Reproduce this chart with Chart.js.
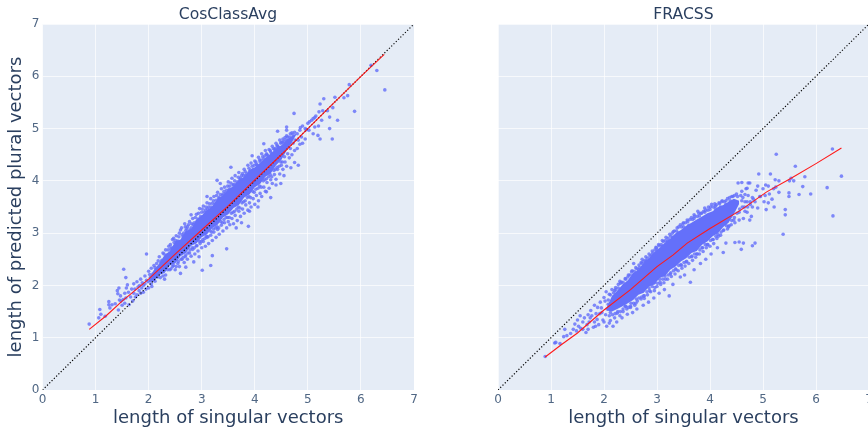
<!DOCTYPE html>
<html>
<head>
<meta charset="utf-8">
<script src="https://cdn.jsdelivr.net/npm/chart.js@4/dist/chart.umd.min.js"></script>
<style>
html,body{margin:0;padding:0;background:#fff;width:868px;height:427px;overflow:hidden}
#wrapA,#wrapB{position:absolute;top:0;height:427px}
#wrapA{left:0;width:456px}
#wrapB{left:434px;width:499px}
</style>
</head>
<body>
<div id="wrapA"><canvas id="a"></canvas></div>
<div id="wrapB"><canvas id="b"></canvas></div>
<script>
const panelTitles = ["CosClassAvg", "FRACSS"];
const xAxisLabel = "length of singular vectors";
const yAxisLabel = "length of predicted plural vectors";
const tickValues = [0,1,2,3,4,5,6,7];
const identityLine = [[0,0],[7,7]];

const trendA = [[0.88,1.16],[1.2,1.42],[1.5,1.7],[2,2.12],[2.5,2.6],[3,3.06],[3.5,3.52],[4,4.02],[4.5,4.5],[5,5],[5.5,5.5],[6,6],[6.44,6.42]];
const trendB = [[0.89,0.63],[1.2,0.87],[1.5,1.09],[2,1.53],[2.5,1.92],[3,2.36],[3.3,2.58],[3.57,2.81],[4,3.09],[4.58,3.44],[5.07,3.79],[5.53,4.05],[6,4.33],[6.48,4.63]];

const denseUpperA = [[2,2.12],[2.1,2.3],[2.2,2.42],[2.3,2.58],[2.4,2.66],[2.5,2.84],[2.6,2.88],[2.7,3.04],[2.8,3.08],[2.9,3.26],[3,3.34],[3.1,3.44],[3.2,3.52],[3.3,3.66],[3.4,3.72],[3.5,3.84],[3.6,3.9],[3.7,4.02],[3.8,4.08],[3.9,4.2],[4,4.26],[4.1,4.34],[4.2,4.44],[4.3,4.52],[4.4,4.62],[4.5,4.68],[4.6,4.78],[4.7,4.86],[4.78,4.9]];
const denseLowerA = [[2,2.06],[2.1,2.08],[2.2,2.2],[2.3,2.24],[2.4,2.38],[2.5,2.42],[2.6,2.56],[2.7,2.62],[2.8,2.76],[2.9,2.8],[3,2.92],[3.1,2.98],[3.2,3.1],[3.3,3.16],[3.4,3.3],[3.5,3.36],[3.6,3.48],[3.7,3.54],[3.8,3.68],[3.9,3.74],[4,3.88],[4.1,3.94],[4.2,4.08],[4.3,4.14],[4.4,4.3],[4.5,4.4],[4.6,4.58],[4.7,4.74],[4.78,4.88]];
const denseUpperB = [[2.05,1.58],[2.15,1.8],[2.25,1.9],[2.35,2.02],[2.45,2.1],[2.55,2.24],[2.65,2.3],[2.75,2.44],[2.85,2.52],[2.95,2.64],[3.05,2.72],[3.15,2.82],[3.25,2.9],[3.35,3],[3.45,3.06],[3.55,3.14],[3.65,3.2],[3.75,3.26],[3.85,3.32],[3.95,3.38],[4.05,3.42],[4.15,3.5],[4.25,3.54],[4.35,3.6],[4.45,3.66],[4.55,3.62]];
const denseLowerB = [[2.05,1.52],[2.15,1.5],[2.25,1.55],[2.35,1.6],[2.45,1.66],[2.55,1.72],[2.65,1.82],[2.75,1.86],[2.85,1.98],[2.95,2.02],[3.05,2.14],[3.15,2.18],[3.25,2.3],[3.35,2.36],[3.45,2.46],[3.55,2.52],[3.65,2.62],[3.75,2.66],[3.85,2.78],[3.95,2.84],[4.05,2.94],[4.15,3],[4.25,3.12],[4.35,3.2],[4.45,3.36],[4.55,3.56]];

const pointsA = [
[0.88,1.26],[1.08,1.54],[1.1,1.45],[1.06,1.38],[1.18,1.41],[1.25,1.69],[1.25,1.63],[1.31,1.63],[1.27,1.57],[1.37,1.65],[1.43,1.53],[1.53,2.31],[1.57,2.15],
[1.44,1.95],[1.41,1.9],[1.42,1.84],[1.47,1.8],[1.45,1.72],[1.52,1.73],[1.57,1.76],[1.62,1.87],[1.68,1.93],[1.72,2.03],[1.6,2.01],[1.75,1.78],[1.82,1.9],[1.9,2.0],[1.85,2.12],[1.78,2.07],[1.93,2.18],[2.0,2.27],[2.05,2.33],[2.1,2.38],[1.5,1.62],[1.55,1.66],[1.63,1.63],[1.7,1.7],[1.78,1.82],[1.85,1.85],[1.9,1.87],[1.95,1.93],[2.0,1.95],[2.05,2.03],[1.66,1.78],[1.72,1.85],[1.8,1.97],[1.88,2.05],[1.96,2.1],[2.03,2.15],[2.08,2.22],[2.15,2.3],[1.55,1.85],[1.48,1.7],[1.58,1.95],[1.96,2.6],[2.12,2.08],[2.17,2.16],[2.06,1.98],[1.87,1.95],[1.93,2.03],[1.99,2.07],[2.02,2.21],[1.74,1.93],[1.83,2.0],
[2.15,2.42],[2.2,2.55],[2.25,2.48],[2.27,2.62],[2.32,2.68],[2.35,2.58],[2.38,2.75],[2.42,2.7],[2.45,2.88],[2.48,2.82],[2.52,2.95],[2.55,2.85],[2.58,3.0],[2.62,3.1],[2.65,2.93],[2.68,3.18],[2.7,3.05],[2.73,3.12],[2.77,3.22],[2.8,3.1],[2.83,3.28],[2.86,3.2],[2.9,3.36],[2.93,3.27],[2.96,3.47],[3.0,3.4],[3.03,3.52],[3.07,3.44],[3.1,3.58],[3.13,3.5],[3.17,3.66],[3.2,3.57],[3.23,3.7],[3.27,3.63],[3.3,3.78],[3.33,3.68],[3.37,3.85],[3.4,3.75],[3.43,3.88],[3.47,3.82],[3.5,3.98],[3.53,3.9],[3.57,4.05],[3.6,3.93],[3.63,4.1],[3.67,3.98],[3.7,4.16],[3.73,4.05],[3.77,4.14],[3.8,4.22],[3.83,4.1],[3.87,4.3],[3.9,4.18],[3.93,4.34],[3.97,4.22],[4.0,4.38],[4.03,4.32],[4.07,4.45],[4.1,4.36],[4.13,4.52],[4.17,4.42],[4.2,4.58],[4.23,4.5],[4.27,4.6],[4.3,4.55],[4.33,4.66],[4.37,4.6],[4.4,4.72],[4.43,4.66],[4.47,4.78],[4.5,4.74],[4.53,4.8],[4.57,4.83],[4.6,4.86],[4.63,4.78],[4.67,4.9],[4.7,4.92],[4.75,4.93],[4.8,4.9],[4.85,4.97],
[2.4,2.3],[2.45,2.36],[2.5,2.3],[2.55,2.42],[2.58,2.36],[2.6,2.23],[2.63,2.5],[2.67,2.44],[2.7,2.58],[2.73,2.5],[2.77,2.62],[2.8,2.56],[2.83,2.69],[2.87,2.6],[2.9,2.76],[2.93,2.66],[2.97,2.8],[3.0,2.72],[3.03,2.84],[3.07,2.75],[3.1,2.92],[3.13,2.8],[3.17,2.96],[3.2,2.86],[3.23,3.02],[3.27,2.92],[3.3,3.07],[3.33,2.98],[3.37,3.15],[3.4,3.04],[3.43,3.2],[3.47,3.1],[3.5,3.22],[3.53,3.16],[3.57,3.28],[3.6,3.18],[3.63,3.34],[3.67,3.24],[3.7,3.42],[3.73,3.32],[3.77,3.46],[3.8,3.38],[3.83,3.54],[3.87,3.44],[3.9,3.58],[3.93,3.5],[3.97,3.66],[4.0,3.55],[4.03,3.72],[4.07,3.62],[4.1,3.76],[4.13,3.7],[4.17,3.88],[4.2,3.8],[4.23,3.97],[4.27,3.86],[4.3,4.02],[4.33,3.95],[4.37,4.12],[4.4,4.03],[4.43,4.22],[4.47,4.13],[4.5,4.3],[4.53,4.22],[4.57,4.36],[4.6,4.28],[4.65,4.44],[4.7,4.5],[4.75,4.58],[4.8,4.62],[4.85,4.7],
[3.01,2.29],[3.17,2.38],[3.2,2.57],[3.47,2.7],[3.88,3.13],[4.06,3.5],[4.22,3.79],[4.49,3.95],[4.82,4.3],[3.55,4.26],[3.29,4.01],[4.17,4.71],[4.6,5.03],[4.43,4.95],[4.74,5.29],[3.95,4.48],[3.75,3.2],[3.9,3.42],[4.3,3.68],[3.65,3.1],[2.85,2.45],[2.95,2.55],[2.7,2.35],[2.3,2.12],[2.8,3.35],[3.1,3.7],[3.35,3.95],[4.55,4.1],[4.68,4.25],[4.4,3.92],[4.9,4.72],[4.75,4.35],[4.95,4.8],
[4.9,5.05],[4.95,5.0],[5.0,5.1],[5.03,5.13],[5.07,5.16],[5.1,5.19],[5.13,5.21],[5.15,5.24],[4.97,4.98],[4.86,5.02],[5.21,5.32],[5.23,5.47],[5.3,5.57],[5.47,5.4],[5.37,5.34],[5.26,5.16],[5.41,5.22],[5.56,5.16],[5.13,5.03],[5.41,5],[4.6,4.97],[5.19,4.87],[5.46,4.8],[5.23,4.8],[5.02,4.97],[5.1,4.9],[5.2,5.05],[5.28,5.34],[5.51,5.6],[5.68,5.59],[5.75,5.63],[5.88,5.33],[5.78,5.84],[6.19,6.21],[6.3,6.11],[6.45,5.74]
];
const edgeA = [
[2.12,2.34],[2.18,2.47],[2.23,2.44],[2.29,2.6],[2.34,2.56],[2.37,2.68],[2.41,2.78],[2.44,2.72],[2.47,2.9],[2.51,2.86],[2.54,2.82],[2.57,2.93],[2.6,3.06],[2.63,2.97],[2.66,3],[2.69,3.12],[2.72,3.08],[2.75,3.16],[2.78,3.06],[2.81,3.18],[2.84,3.16],[2.88,3.3],[2.91,3.22],[2.94,3.38],[2.98,3.32],[3.01,3.46],[3.05,3.4],[3.08,3.5],[3.11,3.46],[3.15,3.56],[3.18,3.5],[3.22,3.62],[3.25,3.56],[3.28,3.72],[3.32,3.66],[3.35,3.74],[3.39,3.72],[3.42,3.8],[3.45,3.76],[3.49,3.9],[3.52,3.84],[3.55,3.96],[3.59,3.92],[3.62,4],[3.65,3.94],[3.69,4.07],[3.72,4.02],[3.75,4.1],[3.79,4.1],[3.82,4.18],[3.85,4.14],[3.89,4.24],[3.92,4.2],[3.95,4.28],[3.99,4.3],[4.02,4.36],[4.05,4.3],[4.09,4.4],[4.12,4.4],[4.15,4.46],[4.19,4.48],[4.22,4.52],[4.25,4.48],[4.29,4.58],[4.32,4.52],[4.35,4.62],[4.39,4.62],[4.42,4.68],[4.45,4.64],[4.49,4.72],[4.52,4.74],[4.55,4.76],[4.59,4.78],[4.62,4.84],[4.66,4.84],[4.72,4.88],
[2.22,2.15],[2.27,2.18],[2.32,2.2],[2.36,2.3],[2.42,2.32],[2.47,2.38],[2.52,2.36],[2.56,2.46],[2.61,2.5],[2.65,2.54],[2.69,2.55],[2.74,2.62],[2.78,2.68],[2.82,2.72],[2.86,2.72],[2.91,2.76],[2.96,2.84],[2.99,2.84],[3.02,2.88],[3.06,2.9],[3.09,2.94],[3.12,2.93],[3.16,3.04],[3.19,3.02],[3.22,3.08],[3.26,3.1],[3.29,3.12],[3.32,3.1],[3.36,3.22],[3.39,3.2],[3.42,3.26],[3.46,3.3],[3.49,3.3],[3.52,3.3],[3.56,3.38],[3.59,3.4],[3.62,3.42],[3.66,3.46],[3.69,3.5],[3.72,3.48],[3.76,3.58],[3.79,3.6],[3.82,3.62],[3.86,3.68],[3.89,3.7],[3.92,3.68],[3.96,3.8],[3.99,3.78],[4.02,3.84],[4.06,3.86],[4.09,3.9],[4.12,3.88],[4.16,4],[4.19,4.02],[4.22,4.04],[4.26,4.08],[4.29,4.12],[4.32,4.08],[4.36,4.2],[4.39,4.22],[4.42,4.26],[4.46,4.28],[4.49,4.36],[4.52,4.36],[4.56,4.46],[4.62,4.52],[4.67,4.62],[4.72,4.72],[4.76,4.78],[4.82,4.78],[4.88,4.84]
];

const pointsB = [
[0.89,0.64],[1.07,0.9],[1.09,0.91],[1.17,0.89],[1.26,1.16],[1.24,1.02],[1.3,1.04],[1.37,1.08],[1.45,1.26],[1.42,1.16],[1.48,1.13],[1.5,1.34],[1.52,1.22],[1.56,1.18],[1.6,1.3],[1.63,1.38],[1.66,1.1],[1.7,1.44],[1.72,1.3],[1.75,1.52],[1.77,1.42],[1.8,1.2],[1.82,1.62],[1.85,1.46],[1.87,1.35],[1.9,1.25],[1.93,1.68],[1.95,1.57],[1.98,1.34],[2.0,1.77],[2.03,1.44],[2.05,1.22],[2.08,1.64],[2.1,1.83],[2.12,1.33],[2.15,1.92],[2.17,1.22],[2.2,1.38],[2.22,1.96],[2.25,1.47],[2.27,2.02],[2.3,1.42],[2.33,2.06],[2.36,1.5],[2.4,2.13],[2.43,1.55],[2.46,2.2],[2.5,1.6],[2.53,2.28],[2.56,2.42],[2.58,1.62],[2.6,2.34],[2.63,1.7],[2.66,2.39],[2.7,1.74],[2.72,2.5],[2.76,1.75],[2.79,2.55],[2.82,1.82],[2.85,2.6],[2.88,1.88],[2.91,2.66],[2.95,1.9],[2.98,2.73],[3.0,1.98],[3.03,2.78],[3.07,2.02],[3.1,2.86],[3.13,2.05],[3.17,2.92],[3.2,2.12],[3.23,1.8],[3.24,2.98],[3.27,2.17],[3.31,3.03],[3.34,2.22],[3.38,3.1],[3.4,2.28],[3.44,3.16],[3.47,2.33],[3.5,3.2],[3.53,2.37],[3.57,3.25],[3.6,2.42],[3.63,2.06],[3.65,3.3],[3.67,2.48],[3.7,3.35],[3.73,2.54],[3.77,3.42],[3.8,2.6],[3.83,3.38],[3.87,2.65],[3.9,3.48],[3.93,2.72],[3.97,3.5],[4.0,2.75],[4.03,3.55],[4.07,2.8],[4.1,3.47],[4.13,2.9],[4.17,3.58],[4.2,2.96],[4.25,2.63],[4.23,3.62],[4.3,2.81],[4.3,3.55],[4.33,3.08],[4.37,3.68],[4.4,3.16],[4.43,3.7],[4.47,2.82],[4.47,3.2],[4.5,3.75],[4.53,3.96],[4.55,2.83],[4.55,3.25],[4.59,2.69],[4.6,3.8],[4.63,2.81],[4.63,3.28],[4.66,3.6],[4.68,3.85],[4.7,3.4],[4.72,3.72],[4.75,3.96],[4.76,3.55],[4.78,3.32],[4.8,2.76],[4.82,3.65],[4.85,2.81],[4.87,3.82],[4.9,3.48],[4.92,4.13],[4.95,3.7],[5.0,3.85],[5.02,3.6],[5.05,3.92],
[2.2,1.9],[2.25,1.82],[2.3,2.08],[2.35,1.9],[2.4,1.6],[2.45,1.75],[2.5,1.58],[2.55,2.2],[2.6,1.66],[2.65,2.3],[2.7,2.44],[2.75,1.8],[2.8,2.46],[2.85,1.95],[2.9,2.58],[2.95,2.05],[3.0,2.68],[3.05,2.12],[3.1,2.75],[3.15,2.18],[3.2,2.84],[3.25,2.22],[3.3,2.92],[3.35,2.32],[3.4,3.0],[3.45,2.4],[3.5,3.12],[3.55,2.45],[3.6,3.15],[3.65,2.55],[3.7,3.28],[3.75,2.6],[3.8,3.33],[3.85,2.72],[3.9,3.4],[3.95,2.78],[4.0,3.45],[4.05,2.88],[4.1,3.52],[4.15,2.98],[4.2,3.5],[4.25,3.05],[4.3,3.62],[4.35,3.12],[4.4,3.55],[4.45,3.25],[4.5,3.55],[4.55,3.4],[4.6,3.62],[4.65,3.5],[4.7,3.6],[4.75,3.25],[4.8,3.5],[4.85,3.6],
[1.55,1.42],[1.6,1.16],[1.68,1.25],[1.74,1.38],[1.82,1.3],[1.88,1.58],[1.92,1.46],[2.02,1.7],[2.06,1.55],[2.12,1.48],[2.18,1.6],[2.22,1.72],[2.28,1.88],[2.34,1.72],[2.38,2.0],[2.42,1.85],[2.48,1.98],[2.18,1.78],[2.04,1.88],[1.96,1.48],[1.84,1.22],[1.7,1.16],[2.0,1.3],[2.1,1.28],[2.24,1.3],[2.34,1.38],[2.44,1.45],[2.54,1.48],[2.62,1.55],[2.74,1.62],[2.84,1.68],[2.94,1.76],[3.04,1.85],[3.14,1.92],[3.3,2.02],[3.44,2.16],[3.52,2.2],[3.7,2.3],[3.82,2.42],[3.92,2.5],[4.02,2.6],[4.14,2.72],
[4.6,3.97],[4.7,3.86],[4.72,3.96],[4.9,3.9],[4.94,3.7],[5.1,3.9],[5.14,4.13],[5.25,4.51],[5.61,4.28],[5.79,4.08],[5.75,3.89],[5.9,3.75],[5.68,3.74],[6.21,3.87],[5.42,3.45],[5.42,3.35],[5.38,2.98],[5.3,4.0],[5.23,4.02],[5.49,3.77],[5.49,3.7],[5.5,4.0],[5.58,4.0],[5.53,4.05],[5.3,3.78],[5.21,3.5],[5.06,3.45],[5.2,3.85],[5.24,3.88],[5.12,3.75],[5.17,3.65],[5.04,3.72],[5.1,3.58],[6.31,4.61],[6.48,4.09],[6.32,3.33]
];
const edgeB = [
[2.08,1.72],[2.12,1.82],[2.18,1.86],[2.22,1.92],[2.27,1.95],[2.31,2.04],[2.36,2.06],[2.41,2.12],[2.45,2.16],[2.49,2.2],[2.52,2.26],[2.57,2.27],[2.62,2.32],[2.67,2.34],[2.71,2.42],[2.74,2.46],[2.78,2.48],[2.82,2.52],[2.87,2.56],[2.92,2.62],[2.96,2.68],[2.99,2.72],[3.04,2.76],[3.08,2.78],[3.12,2.84],[3.16,2.86],[3.21,2.9],[3.26,2.94],[3.29,3],[3.33,3.04],[3.37,3.04],[3.41,3.12],[3.46,3.12],[3.49,3.18],[3.54,3.2],[3.58,3.22],[3.62,3.26],[3.67,3.26],[3.71,3.32],[3.76,3.32],[3.79,3.38],[3.84,3.38],[3.88,3.42],[3.92,3.44],[3.96,3.44],[4.01,3.5],[4.06,3.5],[4.09,3.56],[4.12,3.54],[4.18,3.56],[4.22,3.6],[4.27,3.6],[4.33,3.66],[4.38,3.62],[4.41,3.7],[4.46,3.72],[4.52,3.7],[4.58,3.72],[4.62,3.68],[4.66,3.74],
[2.1,1.42],[2.16,1.44],[2.21,1.46],[2.26,1.5],[2.31,1.5],[2.36,1.55],[2.41,1.6],[2.46,1.58],[2.51,1.66],[2.56,1.66],[2.61,1.74],[2.66,1.76],[2.71,1.78],[2.76,1.8],[2.81,1.88],[2.86,1.9],[2.91,1.98],[2.96,1.96],[3.01,2.04],[3.06,2.06],[3.11,2.12],[3.16,2.12],[3.21,2.2],[3.26,2.24],[3.31,2.28],[3.36,2.3],[3.41,2.38],[3.46,2.38],[3.51,2.44],[3.56,2.46],[3.61,2.54],[3.66,2.56],[3.71,2.6],[3.76,2.6],[3.81,2.68],[3.86,2.72],[3.91,2.78],[3.96,2.78],[4.01,2.86],[4.06,2.88],[4.11,2.94],[4.16,2.94],[4.21,3.02],[4.26,3.06],[4.31,3.14],[4.36,3.14],[4.41,3.24],[4.46,3.3],[4.51,3.38],[4.56,3.46],[4.61,3.5],[4.66,3.42],[4.71,3.5],[4.76,3.6],[4.8,3.68]
];

const tickColor = "#506784";
const inkColor = "#2a3f5f";
const plotBackground = "#e5ecf6";
const dotColor = "rgba(99,110,250,0.8)";
const solidColor = "#6470fa";
const gridColor = "rgba(255,255,255,0.7)";
const fontFamily = "'DejaVu Sans', sans-serif";

const toXY = rows => rows.map(r => ({x:r[0], y:r[1]}));

const plotBg = {
  id: "plotBg",
  beforeDraw(c){
    const a = c.chartArea, g = c.ctx;
    g.save(); g.fillStyle = plotBackground;
    g.fillRect(a.left, a.top, a.right-a.left, a.bottom-a.top);
    g.restore();
  }
};

function makePanel(id, idx, points, upper, lower, trend, showY){
  const scales = {
    x:{type:"linear", min:0, max:7,
      afterBuildTicks(s){ s.ticks = tickValues.map(v=>({value:v})); },
      afterFit(s){ s.height = 37; },
      grid:{color:gridColor, lineWidth:1, drawTicks:false}, border:{display:false},
      ticks:{color:tickColor, autoSkip:false, maxRotation:0, padding:3, font:{family:fontFamily,size:12}},
      title:{display:true, text:xAxisLabel, color:inkColor, padding:0, font:{family:fontFamily,size:18,lineHeight:1}}
    },
    y:{type:"linear", min:0, max:7,
      afterBuildTicks(s){ s.ticks = tickValues.map(v=>({value:v})); },
      afterFit(s){ s.width = showY ? 42.5 : 0; },
      grid:{color:gridColor, lineWidth:1, drawTicks:false}, border:{display:false},
      ticks:{display:showY, color:tickColor, autoSkip:false, padding:3, font:{family:fontFamily,size:12}},
      title:{display:showY, text:yAxisLabel, color:inkColor, padding:{top:6,bottom:0}, font:{family:fontFamily,size:18,lineHeight:1.2}}
    }
  };
  if (showY) {
    scales.spacer = {type:"linear", position:"right", min:0, max:7,
      afterFit(s){ s.width = 42; },
      grid:{display:false}, border:{display:false}, ticks:{display:false}, title:{display:false}};
  }
  new Chart(document.getElementById(id), {
    type: "scatter",
    plugins: [plotBg],
    data: { datasets: [
      {data: toXY(identityLine), showLine:true, pointRadius:0, borderColor:"#000", borderWidth:1.2, borderDash:[1.2,2], fill:false, order:1},
      {data: toXY(trend), showLine:true, pointRadius:0, borderColor:"#ff1a1a", borderWidth:1.1, tension:0, fill:false, order:0},
      {data: toXY(upper), showLine:true, pointRadius:0, borderWidth:0, backgroundColor:solidColor, fill:"+1", order:2},
      {data: toXY(lower), showLine:true, pointRadius:0, borderWidth:0, fill:false, order:2},
      {data: toXY(points), pointRadius:1.8, pointBorderWidth:0, backgroundColor:dotColor, order:3}
    ]},
    options: {
      responsive:true, maintainAspectRatio:false, animation:false, devicePixelRatio:1,
      layout:{padding: showY ? 0 : {left:64,right:64,top:0,bottom:0}},
      plugins:{
        legend:{display:false}, tooltip:{enabled:false},
        title:{display:true, text:panelTitles[idx], color:inkColor, font:{family:fontFamily,size:15.6,weight:"normal",lineHeight:1.2}, padding:{top:5.3,bottom:0}}
      },
      scales
    }
  });
}
makePanel("a", 0, pointsA.concat(edgeA), denseUpperA, denseLowerA, trendA, true);
makePanel("b", 1, pointsB.concat(edgeB), denseUpperB, denseLowerB, trendB, false);
</script>
</body>
</html>
